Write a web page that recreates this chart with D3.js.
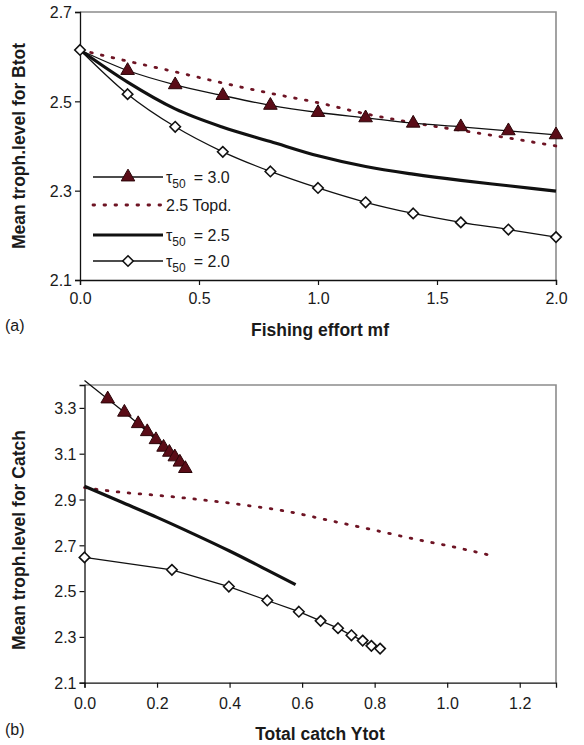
<!DOCTYPE html>
<html><head><meta charset="utf-8">
<script src="https://cdn.jsdelivr.net/npm/d3@7/dist/d3.min.js"></script>
<style>
html,body{margin:0;padding:0;background:#fff;}
svg text{font-family:"Liberation Sans",Arial,Helvetica,sans-serif;fill:#1a1a1a;}
</style></head>
<body>
<svg id="chart" width="584" height="745"></svg>
<script>
// ---------- Panel (a): mean trophic level of Btot vs fishing effort ----------
const effortA = [0, 0.2, 0.4, 0.6, 0.8, 1.0, 1.2, 1.4, 1.6, 1.8, 2.0];
const tau30A  = [2.615, 2.569, 2.537, 2.513, 2.491, 2.475, 2.463, 2.451, 2.443, 2.434, 2.425];
const topdA   = [2.615, 2.590, 2.566, 2.541, 2.518, 2.497, 2.472, 2.452, 2.435, 2.418, 2.400];
const tau25A  = [2.615, 2.543, 2.483, 2.442, 2.410, 2.378, 2.354, 2.337, 2.323, 2.311, 2.299];
const tau20A  = [2.615, 2.516, 2.443, 2.387, 2.343, 2.306, 2.274, 2.249, 2.229, 2.213, 2.196];
const xTicksA = [0, 0.5, 1.0, 1.5, 2.0];
const yTicksA = [2.1, 2.3, 2.5, 2.7];

// ---------- Panel (b): mean trophic level of Catch vs total catch ----------
const tau30Bx = [0, 0.064, 0.110, 0.148, 0.173, 0.197, 0.218, 0.234, 0.249, 0.263, 0.278];
const tau30By = [3.42, 3.339, 3.281, 3.231, 3.196, 3.161, 3.128, 3.106, 3.086, 3.063, 3.035];
const topdBx  = [0, 0.066, 0.25, 0.435, 0.582, 0.656, 0.794, 0.932, 0.99, 1.125];
const topdBy  = [2.952, 2.938, 2.911, 2.877, 2.841, 2.815, 2.768, 2.72, 2.702, 2.654];
const tau25Bx = [0, 0.1, 0.2, 0.3, 0.4, 0.5, 0.582];
const tau25By = [2.958, 2.89, 2.822, 2.75, 2.675, 2.595, 2.528];
const tau20Bx = [0, 0.241, 0.398, 0.504, 0.591, 0.651, 0.699, 0.736, 0.767, 0.791, 0.815];
const tau20By = [2.647, 2.593, 2.52, 2.459, 2.41, 2.37, 2.338, 2.307, 2.284, 2.261, 2.249];
const xTicksB = [0, 0.2, 0.4, 0.6, 0.8, 1.0, 1.2];
const yTicksB = [2.1, 2.3, 2.5, 2.7, 2.9, 3.1, 3.3];

const legendLabels = ["= 3.0", "2.5 Topd.", "= 2.5", "= 2.0"];

const MAROON = "#5a0c17", DOT = "#6e1424";
const svg = d3.select("#chart");
const zip = (xs, ys) => xs.map((x, i) => [x, ys[i]]);

function panel(o) {
  const x = d3.scaleLinear().domain(o.xd).range([o.left, o.right]);
  const y = d3.scaleLinear().domain(o.yd).range([o.bottom, o.top]);
  const g = svg.append("g");
  g.append("path").attr("d", `M${o.left},${o.top}H${o.right}V${o.bottom}`)
    .attr("fill", "none").attr("stroke", "#8c8c8c").attr("stroke-width", 1.6);
  const fmt = d3.format(".1f");
  const ax = g.append("g").attr("transform", `translate(0,${o.bottom})`)
    .call(d3.axisBottom(x).tickValues(o.xt).tickFormat(fmt).tickSize(5).tickPadding(5));
  const ay = g.append("g").attr("transform", `translate(${o.left},0)`)
    .call(d3.axisLeft(y).tickValues(o.yt).tickFormat(fmt).tickSize(5).tickPadding(3));
  [ax, ay].forEach(a => {
    a.select(".domain").attr("stroke", "#111").attr("stroke-width", 1.3);
    a.selectAll(".tick line").attr("stroke", "#111").attr("stroke-width", 1.2);
    a.selectAll("text").attr("font-size", 16).attr("fill", "#1a1a1a")
      .attr("font-family", "Liberation Sans, Arial, sans-serif");
  });
  ay.selectAll("text").attr("dy", "0.36em");
  ax.selectAll("text").attr("dy", o.xdy);
  g.append("text").attr("x", o.tlx).attr("y", o.tly).attr("text-anchor", "middle")
    .attr("font-size", 17.5).attr("font-weight", "bold").text(o.xtitle);
  g.append("text").attr("transform", `translate(${o.ylx},${o.yly}) rotate(-90)`)
    .attr("text-anchor", "middle").attr("font-size", 17.5).attr("font-weight", "bold").text(o.ytitle);
  g.append("text").attr("x", 5).attr("y", o.tagy).attr("font-size", 16).text(o.tag);
  return {x, y, g};
}

function drawSeries(p, pts, style) {
  const line = d3.line().x(d => p.x(d[0])).y(d => p.y(d[1])).curve(style.curve || d3.curveLinear);
  p.g.append("path").datum(pts).attr("d", line).attr("fill", "none")
    .attr("stroke", style.color).attr("stroke-width", style.width)
    .attr("stroke-dasharray", style.dash || null).attr("stroke-linecap", style.dash ? "round" : "butt");
  if (style.marker) {
    const mpts = style.skipFirst ? pts.slice(1) : pts;
    p.g.selectAll(null).data(mpts).enter().append("path")
      .attr("transform", d => `translate(${p.x(d[0])},${p.y(d[1])})`)
      .attr("d", d3.symbol().type(style.marker).size(style.msize))
      .attr("fill", style.mfill).attr("stroke", style.mstroke).attr("stroke-width", style.mw);
  }
}

const tri = {marker: d3.symbolTriangle, msize: 80, mfill: MAROON, mstroke: "#2b0509", mw: 1};
const dia = {marker: d3.symbolDiamond2 || d3.symbolDiamond, msize: 70, mfill: "#fff", mstroke: "#111", mw: 1.6};
const DASH = "1.6,9.4";

// Panel (a)
const pa = panel({xd: [0, 2], yd: [2.1, 2.7], left: 80, right: 556, top: 12, bottom: 280,
  xt: xTicksA, yt: yTicksA, xdy: "0.9em", xtitle: "Fishing effort mf", tlx: 320, tly: 336,
  ytitle: "Mean troph.level for Btot", ylx: 25, yly: 146, tag: "(a)", tagy: 331});
drawSeries(pa, zip(effortA, topdA), {color: DOT, width: 2.8, dash: DASH, curve: d3.curveMonotoneX});
drawSeries(pa, zip(effortA, tau25A), {color: "#111", width: 3.2, curve: d3.curveMonotoneX});
drawSeries(pa, zip(effortA, tau30A), Object.assign({color: "#111", width: 1.3, curve: d3.curveMonotoneX, skipFirst: true}, tri));
drawSeries(pa, zip(effortA, tau20A), Object.assign({color: "#111", width: 1.3, curve: d3.curveMonotoneX}, dia));

// Legend (panel a)
const legY = [177, 205, 235, 261];
const styles = [
  Object.assign({color: "#111", width: 1.3}, tri),
  {color: DOT, width: 2.8, dash: DASH},
  {color: "#111", width: 3.2},
  Object.assign({color: "#111", width: 1.3}, dia)
];
legY.forEach((ly, i) => {
  const s = styles[i];
  const g = pa.g;
  g.append("line").attr("x1", 93).attr("x2", 163).attr("y1", ly).attr("y2", ly)
    .attr("stroke", s.color).attr("stroke-width", s.width)
    .attr("stroke-dasharray", s.dash || null).attr("stroke-linecap", s.dash ? "round" : "butt");
  if (s.marker) {
    g.append("path").attr("transform", `translate(128,${ly})`)
      .attr("d", d3.symbol().type(s.marker).size(s.msize))
      .attr("fill", s.mfill).attr("stroke", s.mstroke).attr("stroke-width", s.mw);
  }
  const t = g.append("text").attr("x", 166).attr("y", ly + 6).attr("font-size", 16);
  if (i === 1) {
    t.text(legendLabels[i]);
  } else {
    t.append("tspan").text("τ");
    t.append("tspan").attr("font-size", 12).attr("dy", 5).text("50");
    t.append("tspan").attr("dx", 8).attr("dy", -5).text(legendLabels[i]);
  }
});

// Panel (b)
const pb = panel({xd: [0, 1.3], yd: [2.1, 3.4], left: 84.5, right: 556, top: 385, bottom: 682.7,
  xt: xTicksB, yt: yTicksB, xdy: "1.05em", xtitle: "Total catch Ytot", tlx: 320, tly: 740,
  ytitle: "Mean troph.level for Catch", ylx: 25, yly: 540, tag: "(b)", tagy: 735});
drawSeries(pb, zip(topdBx, topdBy), {color: DOT, width: 2.8, dash: DASH, curve: d3.curveMonotoneX});
drawSeries(pb, zip(tau25Bx, tau25By), {color: "#111", width: 3.2, curve: d3.curveMonotoneX});
drawSeries(pb, zip(tau30Bx, tau30By), Object.assign({color: "#111", width: 1.3, skipFirst: true}, tri));
drawSeries(pb, zip(tau20Bx, tau20By), Object.assign({color: "#111", width: 1.3}, dia));
</script>
</body></html>
